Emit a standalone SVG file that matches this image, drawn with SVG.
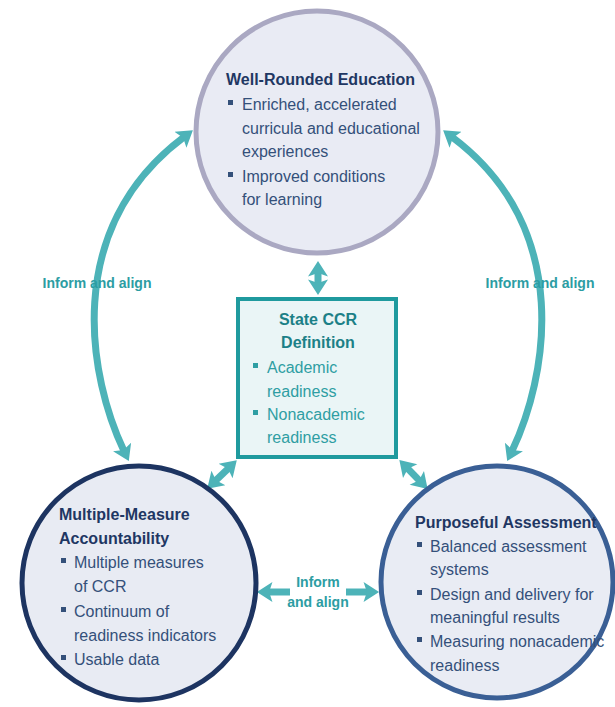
<svg xmlns="http://www.w3.org/2000/svg" width="615" height="707" viewBox="0 0 615 707">
<style>
text{font-family:"Liberation Sans",Arial,sans-serif;font-size:16px}
.t{font-weight:bold;fill:#1f3763}
.b{fill:#34507a}
.ct{font-weight:bold;fill:#1c8087;text-anchor:middle}
.cb{fill:#2f9ea3}
.lab{font-weight:bold;fill:#2c9da3;font-size:14px;text-anchor:middle}
.bul{fill:#34507a}
.cbul{fill:#2f9ea3}
.arr{fill:none;stroke:#4db3b8;stroke-width:7;marker-start:url(#ah);marker-end:url(#ah)}
</style>
<defs>
<marker id="ah" markerUnits="userSpaceOnUse" markerWidth="20" markerHeight="20" viewBox="0 0 14 18" refX="4" refY="9" orient="auto-start-reverse">
<path d="M0,0 L14,9 L0,18 L3,9 z" fill="#4db3b8"/>
</marker>
</defs>
<rect width="615" height="707" fill="#ffffff"/>

<g id="connectors">
<path class="arr" d="M184,137 C60,230 90,380 124,451"/>
<path class="arr" d="M452,137 C576,230 546,380 512,451"/>
<path class="arr" d="M318,272 L318,284"/>
<path class="arr" d="M228.8,467.9 L215.2,481.1"/>
<path class="arr" d="M407.1,467.9 L419.9,481.1"/>
<path d="M290,592 L268,592" fill="none" stroke="#4db3b8" stroke-width="7" marker-end="url(#ah)"/>
<path d="M346,592 L368,592" fill="none" stroke="#4db3b8" stroke-width="7" marker-end="url(#ah)"/>
<text class="lab" x="97" y="288">Inform and align</text>
<text class="lab" x="540" y="288">Inform and align</text>
<text class="lab" x="318" y="587">Inform</text>
<text class="lab" x="318" y="607">and align</text>
</g>

<g id="well-rounded">
<circle cx="317" cy="132" r="121" fill="#e9ebf4" stroke="#aaa8c2" stroke-width="5"/>
<text class="t" x="226" y="85">Well-Rounded Education</text>
<rect class="bul" x="228" y="100" width="5" height="5"/>
<text class="b" x="242" y="110">Enriched, accelerated</text>
<text class="b" x="242" y="133.5">curricula and educational</text>
<text class="b" x="242" y="157">experiences</text>
<rect class="bul" x="228" y="172" width="5" height="5"/>
<text class="b" x="242" y="182">Improved conditions</text>
<text class="b" x="242" y="205">for learning</text>
</g>

<g id="state-ccr">
<rect x="238" y="299" width="158" height="158" fill="#eaf5f6" stroke="#1f9a9e" stroke-width="4"/>
<text class="ct" x="318" y="325">State CCR</text>
<text class="ct" x="318" y="348">Definition</text>
<rect class="cbul" x="253" y="363" width="5" height="5"/>
<text class="cb" x="267" y="373">Academic</text>
<text class="cb" x="267" y="397">readiness</text>
<rect class="cbul" x="253" y="410" width="5" height="5"/>
<text class="cb" x="267" y="420">Nonacademic</text>
<text class="cb" x="267" y="443">readiness</text>
</g>

<g id="accountability">
<circle cx="139" cy="583" r="117" fill="#e8ebf3" stroke="#1d3461" stroke-width="5"/>
<text class="t" x="59" y="520">Multiple-Measure</text>
<text class="t" x="59" y="544">Accountability</text>
<rect class="bul" x="61" y="558" width="5" height="5"/>
<text class="b" x="74" y="568">Multiple measures</text>
<text class="b" x="74" y="592">of CCR</text>
<rect class="bul" x="61" y="607" width="5" height="5"/>
<text class="b" x="74" y="617">Continuum of</text>
<text class="b" x="74" y="641">readiness indicators</text>
<rect class="bul" x="61" y="655" width="5" height="5"/>
<text class="b" x="74" y="665">Usable data</text>
</g>

<g id="assessment">
<circle cx="497" cy="582" r="116" fill="#e9ecf4" stroke="#3a5f95" stroke-width="5"/>
<text class="t" x="415" y="528">Purposeful Assessment</text>
<rect class="bul" x="417" y="542" width="5" height="5"/>
<text class="b" x="430" y="552">Balanced assessment</text>
<text class="b" x="430" y="575">systems</text>
<rect class="bul" x="417" y="590" width="5" height="5"/>
<text class="b" x="430" y="600">Design and delivery for</text>
<text class="b" x="430" y="623">meaningful results</text>
<rect class="bul" x="417" y="637" width="5" height="5"/>
<text class="b" x="430" y="647">Measuring nonacademic</text>
<text class="b" x="430" y="671">readiness</text>
</g>
</svg>
